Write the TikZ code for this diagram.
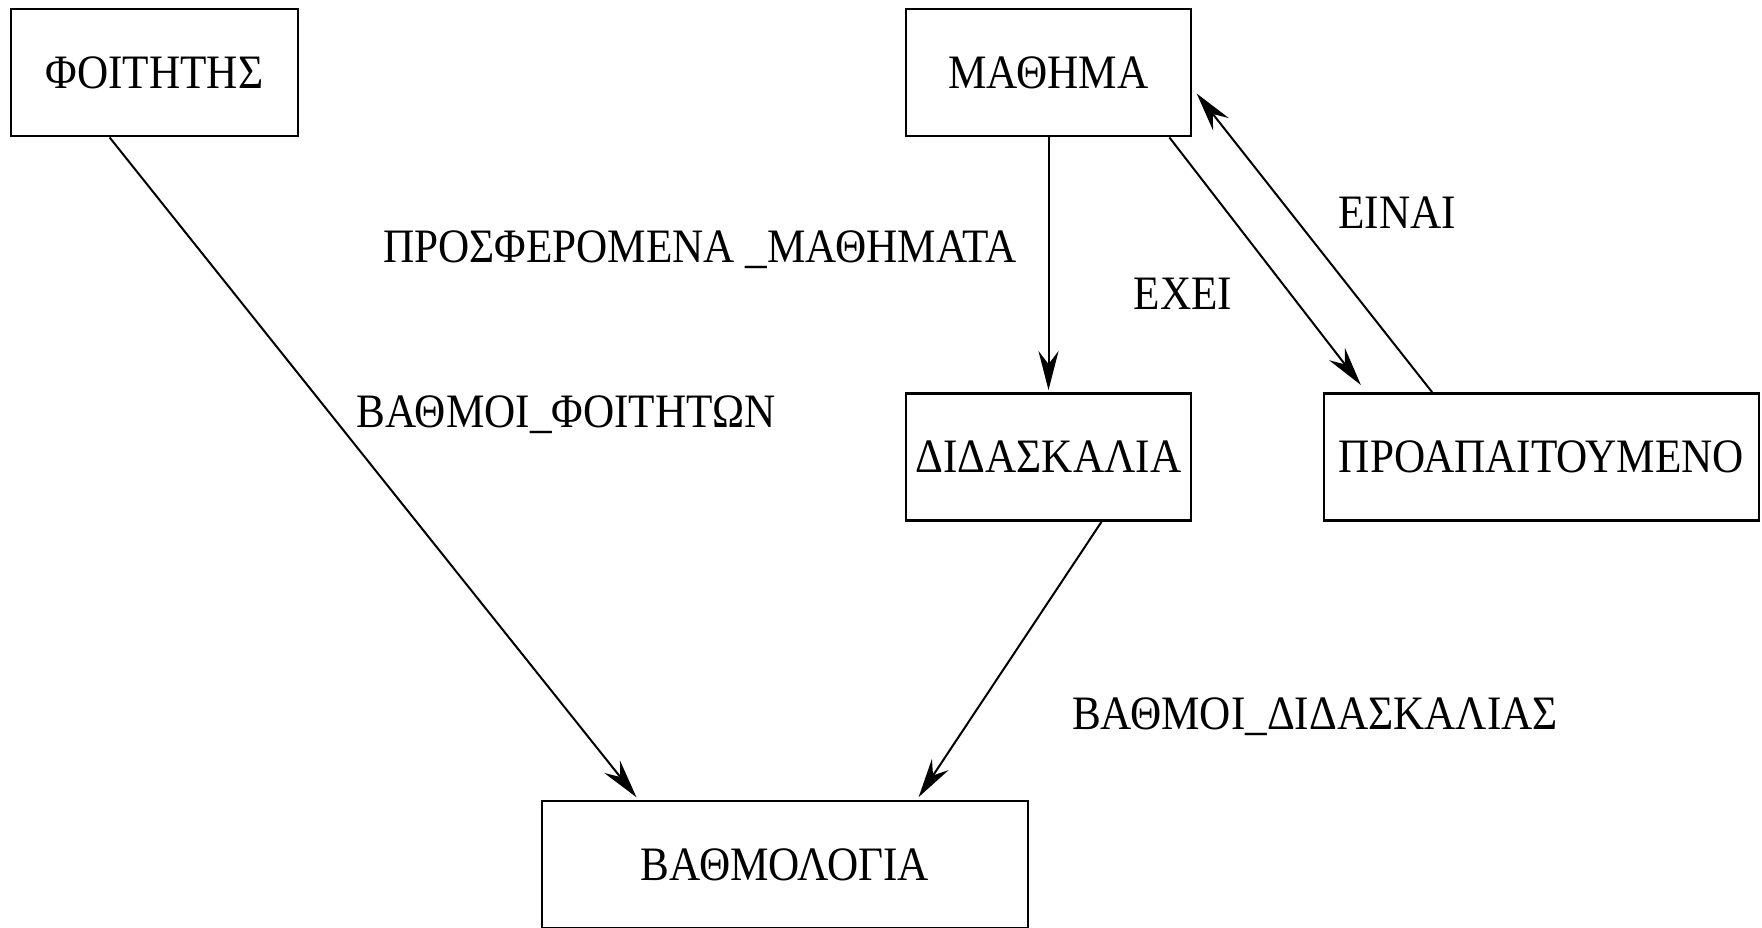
\documentclass[tikz,border=0pt]{standalone}
\usepackage{fontspec}
\setmainfont{Liberation Serif}[FakeStretch=0.9]
\usetikzlibrary{arrows.meta,calc}
\begin{document}
\begin{tikzpicture}[x=1pt,y=-1pt,
  every node/.style={font=\fontsize{48}{54}\selectfont, inner sep=0pt,
    text height=31pt, text depth=0pt},
  entity/.style={draw, line width=2.8pt, minimum height=127pt},
  rel/.style={line width=2pt, -{Stealth[length=39pt,width=20pt,inset=13pt]}},
]
\clip (0,0) rectangle (1762,927);
\fill[white] (0,0) rectangle (1762,927);

% entities
\node[entity, minimum width=287pt] (foit)  at (154.5,72.5)  {ΦΟΙΤΗΤΗΣ};
\node[entity, minimum width=285pt] (math)  at (1048.5,72.5) {ΜΑΘΗΜΑ};
\node[entity, minimum width=285pt] (didas) at (1048.5,457) {ΔΙΔΑΣΚΑΛΙΑ};
\node[entity, minimum width=435pt] (proap) at (1541.5,457) {ΠΡΟΑΠΑΙΤΟΥΜΕΝΟ};
\node[entity, minimum width=486pt] (bath)  at (785,864.5) {ΒΑΘΜΟΛΟΓΙΑ};

% relationship labels
\node (lprosf) at (700,247)  {ΠΡΟΣΦΕΡΟΜΕΝΑ \_ΜΑΘΗΜΑΤΑ};
\node (lbfoit) at (566,412)  {ΒΑΘΜΟΙ\_ΦΟΙΤΗΤΩΝ};
\node (lexei)  at (1183,294) {ΕΧΕΙ};
\node (leinai) at (1397,213) {ΕΙΝΑΙ};
\node (lbdid)  at (1315,714) {ΒΑΘΜΟΙ\_ΔΙΔΑΣΚΑΛΙΑΣ};

% relationships
\draw[rel, shorten >=3pt]
  ($(foit.south west)!0.345!(foit.south east)$) --
  ($(bath.north west)!0.2!(bath.north east)$);
\draw[rel, shorten >=2pt] (math.south) -- (didas.north);
\draw[rel, shorten >=9pt]
  ($(math.south west)!0.92!(math.south east)$) --
  ($(proap.north west)!0.10!(proap.north east)$);
\draw[rel, shorten >=7pt]
  ($(proap.north west)!0.25!(proap.north east)$) --
  ($(math.north east)!0.62!(math.south east)$);
\draw[rel, shorten >=3pt]
  ($(didas.south west)!0.684!(didas.south east)$) --
  ($(bath.north west)!0.77!(bath.north east)$);
\end{tikzpicture}
\end{document}
